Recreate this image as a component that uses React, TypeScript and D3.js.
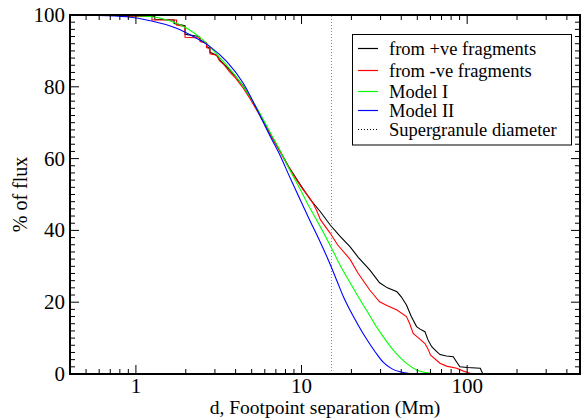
import React from "react";
import * as d3 from "d3";

// ---- data ----
const posFragments: [number, number][] = [
  [0.4, 100], [0.9, 100], [0.9, 99.7], [1.3, 99.6], [1.3, 98.8], [1.7, 98.6], [1.7, 97.6],
  [1.98, 97.0], [1.98, 94.6], [2.4, 94.0], [2.45, 93.0], [2.67, 92.2], [2.67, 91.2],
  [2.8, 90.8], [2.8, 89.6], [3.07, 88.8], [3.2, 87.6], [3.45, 86.0], [3.7, 84.6],
  [4.0, 82.8], [4.45, 80.2], [4.9, 77.0], [5.6, 72.4], [6.6, 66.2], [7.4, 62.2],
  [8.5, 57.2], [10, 52.2], [11.3, 48.6], [13, 45.2], [14.9, 41.5], [17, 38.5],
  [19.6, 35.5], [22, 32.5], [25.8, 29.0], [29.6, 25.4], [33, 24.0], [37.7, 22.9],
  [40, 21.5], [43, 19.2], [46, 16.0], [49.5, 13.2], [52, 12.5], [55.6, 11.8],
  [58, 9.5], [61.1, 7.6], [65, 6.4], [68.5, 5.4], [75, 5.0], [82.4, 4.8], [86, 3.5],
  [90.4, 2.0], [100, 1.8], [120, 1.6], [123, 0.5], [125, 0],
];
const negFragments: [number, number][] = [
  [0.4, 100], [0.85, 100], [0.85, 99.6], [1.25, 99.6], [1.25, 98.6], [1.76, 98.6],
  [1.76, 97.2], [1.98, 96.8], [1.98, 93.8], [2.44, 93.6], [2.44, 92.6], [2.67, 92.2],
  [2.67, 90.9], [2.8, 90.6], [2.8, 89.2], [3.07, 88.8], [3.2, 87.2], [3.4, 86.2],
  [3.7, 84.0], [4.0, 82.4], [4.45, 79.6], [4.9, 76.6], [5.6, 72.0], [6.6, 66.0],
  [7.4, 62.0], [8.5, 57.0], [10, 52.0], [11.2, 49.0], [11.7, 47.6], [12.3, 45.7],
  [13, 43.0], [14.8, 39.4], [16.5, 36.0], [19.6, 32.0], [22, 28.0], [25.8, 23.4],
  [29.6, 20.1], [33, 19.0], [37.7, 17.8], [43, 16.0], [45, 14.0], [47.2, 11.3],
  [51, 10.0], [55.6, 8.5], [58, 7.0], [60, 5.3], [68.5, 3.0], [75, 2.2], [86.5, 1.6],
  [95, 0.8], [104, 0.2], [110, 0],
];
const modelI: [number, number][] = [
  [0.4, 100], [0.88, 99.9], [1.22, 99.6], [1.6, 98.4], [2.03, 96.3], [2.55, 93.0],
  [3.2, 88.2], [4.25, 81.4], [5.6, 72.6], [6.6, 66.5], [7.4, 62.3], [8.5, 56.8],
  [9.8, 51.5], [11.3, 46.0], [12.3, 43.0], [14.9, 35.8], [17, 30.5], [19.6, 25.5],
  [22, 21.5], [24.8, 17.6], [28, 13.5], [31.1, 10.4], [35, 7.2], [39.3, 4.6],
  [44, 2.6], [49.5, 1.1], [56, 0.4], [64, 0.1], [72, 0],
];
const modelII: [number, number][] = [
  [0.4, 100], [0.6, 99.9], [0.88, 99.5], [1.22, 98.4], [1.76, 96.3], [2.22, 94.0],
  [2.8, 91.2], [3.54, 87.0], [4.45, 81.0], [5.6, 72.1], [6.5, 66.0], [7.4, 61.0],
  [8.5, 54.8], [9.8, 48.6], [11.3, 42.5], [12.9, 37.0], [14.9, 30.5], [16.5, 25.5],
  [17.9, 21.5], [19.6, 17.8], [22, 13.6], [24.8, 9.6], [28, 6.0], [31.1, 3.3],
  [35, 1.5], [39.3, 0.6], [45, 0.15], [54, 0],
];
const supergranuleDiameter = 15;
const xMajorTicks = [1, 10, 100];
const yMajorTicks = [0, 20, 40, 60, 80, 100];
const legendLabels = [
  "from +ve fragments",
  "from -ve fragments",
  "Model I",
  "Model II",
  "Supergranule diameter",
];

const W = 584;
const H = 419;
const FONT = "'Liberation Serif', 'DejaVu Serif', 'Times New Roman', serif";

export default function App() {
  const left = 70, right = 580, top = 15, bottom = 374;
  const x = d3.scaleLog().domain([0.4, 480]).range([left, right]);
  const y = d3.scaleLinear().domain([0, 100]).range([bottom, top]);

  const line = d3
    .line<[number, number]>()
    .x((d) => x(d[0]))
    .y((d) => y(d[1]));
  const smooth = d3
    .line<[number, number]>()
    .x((d) => x(d[0]))
    .y((d) => y(d[1]))
    .curve(d3.curveMonotoneX);

  const xMinor: number[] = [];
  for (let dec = 0.1; dec <= 100; dec *= 10) {
    for (let m = 1; m <= 9; m++) {
      const v = +(dec * m).toPrecision(3);
      if (v >= 0.4 && v <= 480 && !xMajorTicks.includes(v)) xMinor.push(v);
    }
  }
  const yMinor = d3.range(0, 101, 2).filter((v) => v % 20 !== 0);

  const majorLen = 9, minorLen = 5;
  const series = [
    { data: posFragments, color: "#000000", gen: line },
    { data: negFragments, color: "#ff0000", gen: line },
    { data: modelI, color: "#00ff00", gen: smooth },
    { data: modelII, color: "#0000ff", gen: smooth },
  ];
  const legendColors = ["#000000", "#ff0000", "#00ff00", "#0000ff", "#000000"];
  const legendY = [48.5, 70.5, 91.5, 110.5, 129.5];

  return (
    <svg
      width={W}
      height={H}
      style={{ position: "absolute", left: 0, top: 0, fontFamily: FONT }}
    >
      <rect x={0} y={0} width={W} height={H} fill="#fff" />
      <line
        x1={Math.round(x(supergranuleDiameter)) + 0.5}
        x2={Math.round(x(supergranuleDiameter)) + 0.5}
        y1={bottom}
        y2={top}
        stroke="#888"
        strokeWidth={1}
        strokeDasharray="1,2"
      />
      {series.map((s, i) => (
        <path key={i} d={s.gen(s.data) || ""} fill="none" stroke={s.color} strokeWidth={1.1} />
      ))}
      <g stroke="#000" strokeWidth={1}>
        {xMajorTicks.map((t) => (
          <g key={"xM" + t}>
            <line x1={x(t)} x2={x(t)} y1={bottom} y2={bottom - majorLen} />
            <line x1={x(t)} x2={x(t)} y1={top} y2={top + majorLen} />
          </g>
        ))}
        {xMinor.map((t) => (
          <g key={"xm" + t}>
            <line x1={x(t)} x2={x(t)} y1={bottom} y2={bottom - minorLen} />
            <line x1={x(t)} x2={x(t)} y1={top} y2={top + minorLen} />
          </g>
        ))}
        {yMajorTicks.map((t) => (
          <g key={"yM" + t}>
            <line x1={left} x2={left + majorLen} y1={y(t)} y2={y(t)} />
            <line x1={right} x2={right - majorLen} y1={y(t)} y2={y(t)} />
          </g>
        ))}
        {yMinor.map((t) => (
          <g key={"ym" + t}>
            <line x1={left} x2={left + minorLen} y1={y(t)} y2={y(t)} />
            <line x1={right} x2={right - minorLen} y1={y(t)} y2={y(t)} />
          </g>
        ))}
      </g>
      <rect x={left} y={top} width={right - left} height={bottom - top} fill="none" stroke="#000" strokeWidth={2} />
      {xMajorTicks.map((t) => (
        <text key={"xl" + t} x={x(t)} y={393} textAnchor="middle" fontSize={21} fill="#000">
          {t}
        </text>
      ))}
      {yMajorTicks.map((t) => (
        <text key={"yl" + t} x={left - 5} y={y(t) + 7} textAnchor="end" fontSize={21} fill="#000">
          {t}
        </text>
      ))}
      <text x={(left + right) / 2} y={414} textAnchor="middle" fontSize={19.5} fill="#000">
        d, Footpoint separation (Mm)
      </text>
      <text
        transform={`translate(27, ${(top + bottom) / 2}) rotate(-90)`}
        textAnchor="middle"
        fontSize={20}
        fill="#000"
      >
        % of flux
      </text>
      <rect x={352.5} y={34.5} width={219} height={110.5} fill="#fff" stroke="#000" strokeWidth={1} />
      {legendLabels.map((lab, i) => (
        <g key={lab}>
          <line
            x1={358}
            x2={378}
            y1={legendY[i]}
            y2={legendY[i]}
            stroke={legendColors[i]}
            strokeWidth={1.2}
            strokeDasharray={i === 4 ? "1,2" : undefined}
          />
          <text x={389} y={legendY[i] + 6} fontSize={18.5} fill="#000">
            {lab}
          </text>
        </g>
      ))}
    </svg>
  );
}
